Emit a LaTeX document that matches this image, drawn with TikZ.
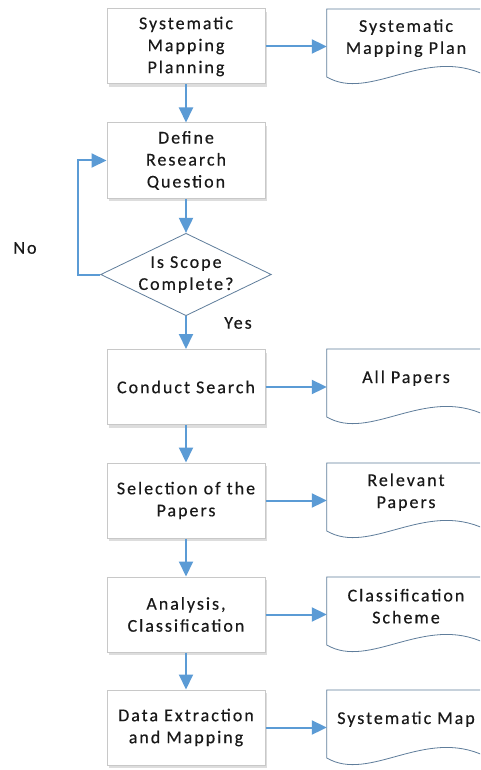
\documentclass[tikz,border=0pt]{standalone}
\usepackage{fontspec}
\setmainfont{Carlito}
\usetikzlibrary{arrows.meta,shapes.geometric,shadows,calc}
\definecolor{arrowblue}{RGB}{91,155,213}
\definecolor{docedge}{RGB}{95,125,155}
\definecolor{boxedge}{RGB}{200,200,200}
\definecolor{txt}{RGB}{25,25,25}
\newcommand{\myfont}{\addfontfeatures{LetterSpace=11,FakeBold=0.4}\fontsize{18}{22}\selectfont}
\tikzset{
  stepbox/.style={draw=boxedge, line width=1pt, fill=white, minimum width=158pt, minimum height=75pt,
    align=center, inner sep=2pt, font=\myfont, text=txt,
    drop shadow={shadow xshift=2pt, shadow yshift=-3pt, opacity=0.22, fill=black!60}},
  docnode/.style={minimum width=158pt, minimum height=58pt, anchor=north, align=center,
    inner sep=2pt, font=\myfont, text=txt},
  decision/.style={diamond, aspect=2.07, draw=docedge, line width=0.8pt, fill=white,
    minimum width=155pt, minimum height=75pt, inner sep=0pt, align=center, font=\myfont, text=txt},
  arr/.style={draw=arrowblue, line width=2pt, -{Triangle[length=15pt,width=14pt,fill=arrowblue]}},
  docline/.style={draw=docedge, line width=0.8pt},
  lbl/.style={font=\myfont, text=txt}
}
\newcommand{\docshape}[1]{%
  \draw[docline] ([xshift=158pt]#1.north west) -- (#1.north west) -- ([yshift=-68pt]#1.north west)
    .. controls ([xshift=43pt,yshift=-93pt]#1.north west) and ([xshift=98pt,yshift=-37pt]#1.north west)
    .. ([xshift=158pt,yshift=-66pt]#1.north west);}
\begin{document}
\begin{tikzpicture}[x=1pt,y=-1pt]
\clip (0,0) rectangle (480,770);
\fill[white] (0,0) rectangle (480,770);

\node[stepbox] (b1) at (186,46.5) {Systematic\\Mapping\\Planning};
\node[stepbox] (b2) at (186,160.5) {Define\\Research\\Question};
\node[decision] (dq) at (186,274.5) {Is Scope\\Complete?};
\node[stepbox] (b3) at (186,387) {Conduct Search};
\node[stepbox] (b4) at (186,500.5) {Selection of the\\Papers};
\node[stepbox] (b5) at (186,614.5) {Analysis,\\Classification};
\node[stepbox] (b6) at (186,727.5) {Data Extraction\\and Mapping};

\node[docnode] (d1) at (406,9) {Systematic\\Mapping Plan};
\node[docnode] (d3) at (406,349) {All Papers};
\node[docnode] (d4) at (406,463) {Relevant\\Papers};
\node[docnode] (d5) at (406,577) {Classification\\Scheme};
\node[docnode] (d6) at (406,690) {Systematic Map};
\docshape{d1}
\docshape{d3}
\docshape{d4}
\docshape{d5}
\docshape{d6}

\node[lbl] (no) at (25,248) {No};
\node[lbl] (yes) at (238,323) {Yes};
\coordinate (nocorner) at (78,274.5);

\draw[arr] (b1) -- (b2);
\draw[arr] (b2) -- (dq);
\draw[arr] (dq) -- (b3);
\draw[arr] (b3) -- (b4);
\draw[arr] (b4) -- (b5);
\draw[arr] (b5) -- (b6);
\draw[arr] (dq.west) -- (nocorner) |- (b2.west);

\draw[arr] (b1.east) -- (b1.east -| d1.west);
\draw[arr] (b3.east) -- (b3.east -| d3.west);
\draw[arr] (b4.east) -- (b4.east -| d4.west);
\draw[arr] (b5.east) -- (b5.east -| d5.west);
\draw[arr] (b6.east) -- (b6.east -| d6.west);
\end{tikzpicture}
\end{document}
